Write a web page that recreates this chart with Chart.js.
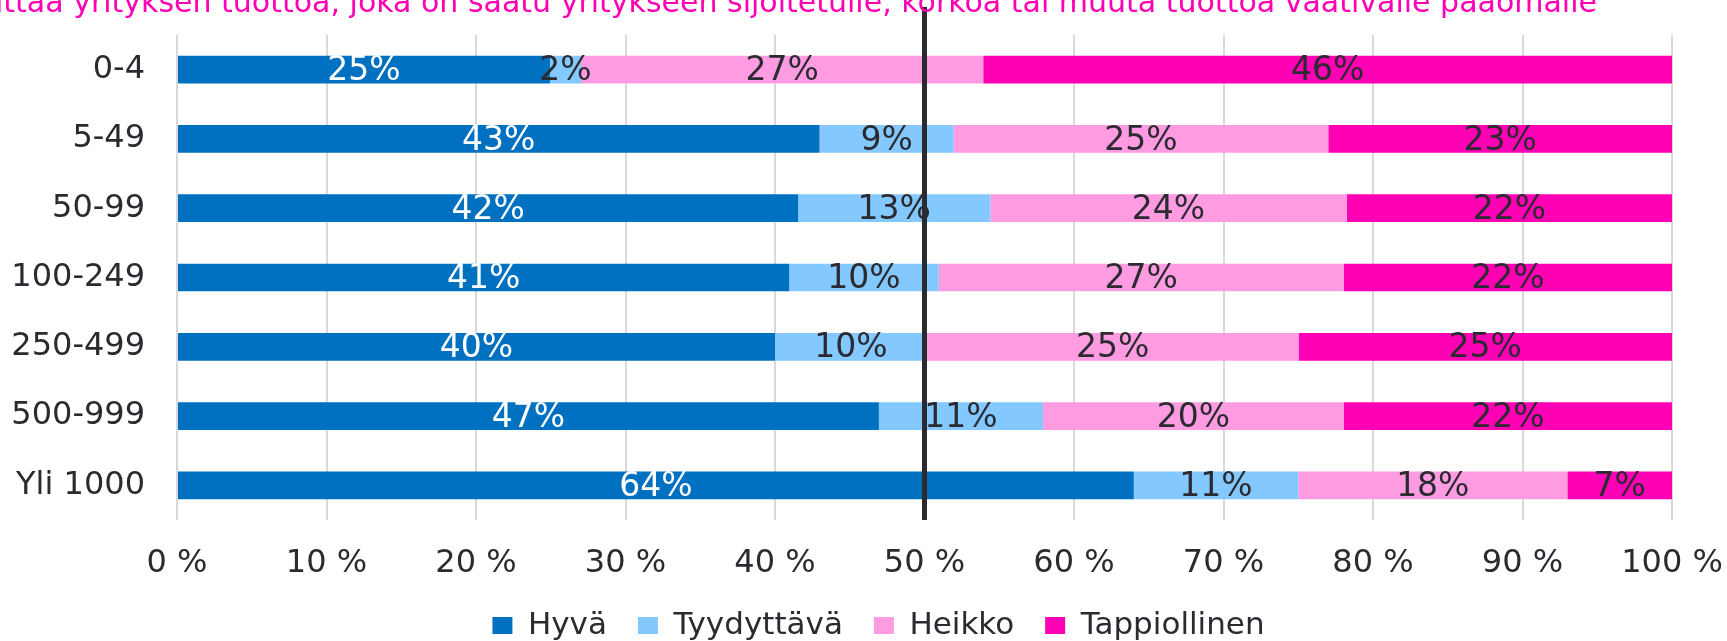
<!DOCTYPE html>
<html lang="fi">
<head>
<meta charset="utf-8">
<title>Kannattavuus yrityksen koon mukaan</title>
<script src="https://cdn.jsdelivr.net/npm/chart.js@4.4.1/dist/chart.umd.min.js"></script>
<style>
  html, body { margin: 0; padding: 0; background: #fff; overflow: hidden; }
  #wrap { position: relative; width: 1727px; height: 641px; }
  #chart { display: block; }
  #chartTitle {
    position: absolute; right: 130px; top: -13px;
    font: 30px 'DejaVu Sans', Verdana, sans-serif; line-height: 30px;
    color: #ff00b4; white-space: nowrap;
  }
</style>
</head>
<body>
<div id="wrap">
  <canvas id="chart" width="1727" height="641"></canvas>
  <div id="chartTitle">Mittaa yrityksen tuottoa, joka on saatu yritykseen sijoitetulle, korkoa tai muuta tuottoa vaativalle pääomalle</div>
</div>
<script>
'use strict';

// ── Data (shares in %) ──
const sizeClasses  = ['0-4', '5-49', '50-99', '100-249', '250-499', '500-999', 'Yli 1000'];
const hyva         = [24.95, 42.98, 41.55, 40.95, 40.00, 46.95, 64.00];
const tyydyttava   = [2.07, 8.97, 12.85, 10.00, 10.17, 10.98, 11.00];
const heikko       = [26.91, 25.06, 23.84, 27.09, 24.85, 20.11, 18.00];
const tappiollinen = [46.07, 22.99, 21.76, 21.96, 24.98, 21.96, 7.00];
const seriesNames  = ['Hyvä', 'Tyydyttävä', 'Heikko', 'Tappiollinen'];
const xTicks       = [0, 10, 20, 30, 40, 50, 60, 70, 80, 90, 100];
const midValue     = 50;

const TEXT = '#2a2a30';
const FONT = "'DejaVu Sans', Verdana, sans-serif";

Chart.defaults.font.family = FONT;
Chart.defaults.font.size = 32;
Chart.defaults.color = TEXT;

// value labels in the middle of each segment
const segmentLabels = {
    id: 'segmentLabels',
    afterDatasetsDraw(chart) {
        const ctx = chart.ctx;
        ctx.save();
        ctx.font = `33px ${FONT}`;
        ctx.textAlign = 'center';
        ctx.textBaseline = 'middle';
        chart.data.datasets.forEach((ds, i) => {
            chart.getDatasetMeta(i).data.forEach((bar, j) => {
                const { x, y, base } = bar.getProps(['x', 'y', 'base'], true);
                ctx.fillStyle = ds.labelColor;
                ctx.fillText(Math.round(ds.data[j]) + '%', (x + base) / 2, y + 2);
            });
        });
        ctx.restore();
    }
};

// thick black line at 50 %
const midLine = {
    id: 'midLine',
    afterDraw(chart) {
        const { ctx, chartArea, scales } = chart;
        const px = scales.x.getPixelForValue(midValue);
        ctx.save();
        ctx.strokeStyle = '#2b2a30';
        ctx.lineWidth = 5;
        ctx.beginPath();
        ctx.moveTo(px, 7);
        ctx.lineTo(px, chartArea.bottom);
        ctx.stroke();
        ctx.restore();
    }
};

// legend sits a little right of centre in the original
const legendNudge = {
    id: 'legendNudge',
    afterLayout(chart) {
        chart.legend.left += 15;
        chart.legend.right += 15;
    }
};

const mk = (label, data, color, labelColor) => ({
    label, data,
    backgroundColor: color,
    borderWidth: 0,
    labelColor,
    barPercentage: 0.4,
    categoryPercentage: 1
});

new Chart(document.getElementById('chart'), {
    type: 'bar',
    data: {
        labels: sizeClasses,
        datasets: [
            mk(seriesNames[0], hyva, '#0070c0', '#ffffff'),
            mk(seriesNames[1], tyydyttava, '#83c8ff', TEXT),
            mk(seriesNames[2], heikko, '#ff9be1', TEXT),
            mk(seriesNames[3], tappiollinen, '#ff00b4', TEXT)
        ]
    },
    options: {
        indexAxis: 'y',
        responsive: false,
        animation: false,
        devicePixelRatio: 1,
        layout: { padding: { top: 35, left: 0, right: 0, bottom: 0 } },
        plugins: {
            title: { display: false },
            tooltip: { enabled: false },
            legend: {
                position: 'bottom',
                maxHeight: 62,
                labels: {
                    boxWidth: 20,
                    boxHeight: 17,
                    padding: 31,
                    color: TEXT,
                    font: { size: 31, family: FONT }
                }
            }
        },
        scales: {
            x: {
                stacked: true,
                min: 0,
                max: 100,
                afterBuildTicks: s => { s.ticks = xTicks.map(v => ({ value: v })); },
                afterFit: s => { s.height = 59; s.paddingRight = 55; },
                grid: { color: '#d9d9d9', lineWidth: 2, drawTicks: false },
                border: { display: false },
                ticks: { padding: 24, color: TEXT, callback: v => v + ' %' }
            },
            y: {
                stacked: true,
                afterFit: s => { s.width = 177; s.paddingTop = 0; s.paddingBottom = 0; },
                grid: { display: false, drawTicks: false },
                border: { display: false },
                ticks: { padding: 32, color: TEXT }
            }
        }
    },
    plugins: [segmentLabels, midLine, legendNudge]
});
</script>
</body>
</html>
